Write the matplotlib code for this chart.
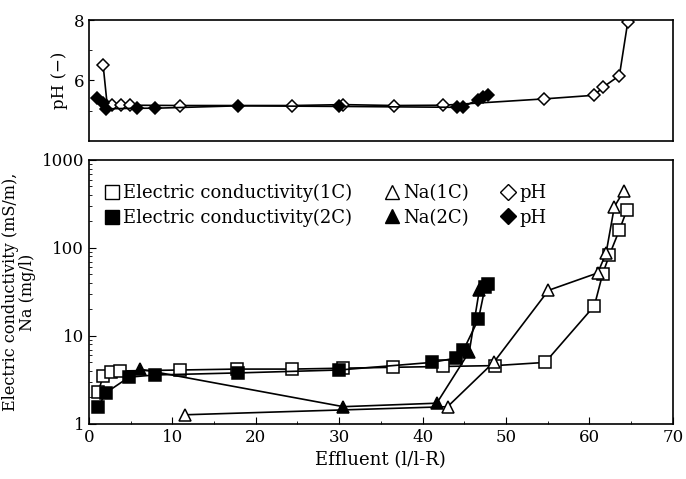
import matplotlib.pyplot as plt
from matplotlib.lines import Line2D

plt.rcParams['font.family'] = ['DejaVu Serif']

# pH (top panel)
ph1_x = [1.7, 2.2, 2.8, 3.9, 4.9, 10.9, 24.4, 30.5, 36.6, 42.5, 54.6, 60.6, 61.6, 63.6, 64.6]
ph1_y = [6.5, 5.15, 5.18, 5.18, 5.18, 5.17, 5.17, 5.2, 5.17, 5.18, 5.39, 5.51, 5.77, 6.16, 7.93]
ph2_x = [1.0, 1.7, 2.0, 5.8, 7.9, 17.9, 30.0, 44.1, 44.8, 46.6, 47.3, 47.8]
ph2_y = [5.41, 5.24, 5.06, 5.08, 5.08, 5.16, 5.14, 5.11, 5.12, 5.36, 5.44, 5.52]

# Electric conductivity (mS/m)
ec1_x = [1.1, 1.7, 2.7, 3.7, 10.9, 17.7, 24.3, 30.5, 36.5, 42.5, 48.7, 54.7, 60.6, 61.6, 62.4, 63.6, 64.5]
ec1_y = [2.3, 3.5, 3.9, 4.0, 4.1, 4.2, 4.2, 4.3, 4.4, 4.5, 4.6, 5.0, 22, 51, 83, 160, 270]
ec2_x = [1.1, 2.0, 4.8, 7.9, 17.9, 30.0, 41.1, 44.0, 44.9, 46.7, 47.5, 47.8]
ec2_y = [1.55, 2.25, 3.4, 3.6, 3.8, 4.1, 5.0, 5.6, 6.9, 15.5, 36, 39]

# Na (mg/l)
na1_x = [11.5, 43.0, 48.6, 55.1, 61.0, 62.0, 63.0, 64.1]
na1_y = [1.27, 1.57, 5.1, 33, 52, 87, 295, 440]
na2_x = [6.1, 30.5, 41.7, 45.6, 46.8]
na2_y = [4.2, 1.57, 1.72, 6.6, 33]

fig = plt.figure(figsize=(6.86, 4.79), dpi=100)
ax1 = fig.add_axes([0.1297, 0.706, 0.851, 0.252])
ax2 = fig.add_axes([0.1297, 0.115, 0.851, 0.551])

mk = dict(color='black', lw=1.2, markeredgecolor='black', markeredgewidth=1.1)

# top: pH
ax1.plot(ph1_x, ph1_y, marker='D', ms=6.5, markerfacecolor='white', **mk)
ax1.plot(ph2_x, ph2_y, marker='D', ms=6.5, markerfacecolor='black', **mk)
ax1.set_xlim(0, 70)
ax1.set_ylim(4, 8)
ax1.set_yticks([6, 8])
ax1.set_yticks([5, 7], minor=True)
ax1.set_xticks([])
ax1.tick_params(axis='y', which='both', direction='in', labelsize=12)
ax1.set_ylabel('pH (−)', fontsize=12)
for s in ax1.spines.values():
    s.set_linewidth(1.2)

# bottom: conductivity and Na
ax2.plot(ec1_x, ec1_y, marker='s', ms=9, markerfacecolor='white', **mk)
ax2.plot(ec2_x, ec2_y, marker='s', ms=9, markerfacecolor='black', **mk)
ax2.plot(na1_x, na1_y, marker='^', ms=9, markerfacecolor='white', **mk)
ax2.plot(na2_x, na2_y, marker='^', ms=9, markerfacecolor='black', **mk)
ax2.set_yscale('log')
ax2.set_xlim(0, 70)
ax2.set_ylim(1, 1000)
ax2.set_xticks(range(0, 71, 10))
ax2.set_xticks(range(5, 70, 10), minor=True)
ax2.set_yticks([1, 10, 100, 1000])
ax2.set_yticklabels(['1', '10', '100', '1000'])
ax2.tick_params(which='both', direction='in', labelsize=12)
ax2.tick_params(which='major', length=5)
ax2.set_xlabel('Effluent (l/l-R)', fontsize=13)
ax2.set_ylabel('Electric conductivity (mS/m),\nNa (mg/l)', fontsize=11.5,
               linespacing=1.0)
for s in ax2.spines.values():
    s.set_linewidth(1.2)

def h(m, fc):
    return Line2D([], [], ls='none', marker=m, ms=10 if m != 'D' else 8,
                  markerfacecolor=fc, markeredgecolor='black')

handles = [h('s', 'white'), h('s', 'black'), h('^', 'white'), h('^', 'black'),
           h('D', 'white'), h('D', 'black')]
labels = ['Electric conductivity(1C)', 'Electric conductivity(2C)',
          'Na(1C)', 'Na(2C)', 'pH', 'pH']
ax2.legend(handles, labels, ncol=3, loc='upper left', frameon=False,
           fontsize=13, handlelength=0.8, handletextpad=0.2,
           columnspacing=1.8, labelspacing=0.35, bbox_to_anchor=(0.0, 0.97))

fig.savefig('out.png', dpi=100)
